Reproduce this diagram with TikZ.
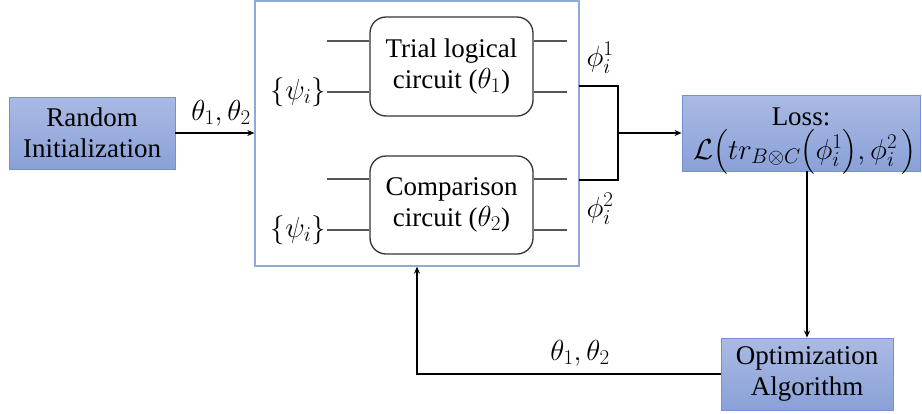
\documentclass[tikz,border=0pt]{standalone}
\usepackage{fix-cm}
\usepackage{amsmath}
\usepackage{fontspec}
\setmainfont{Liberation Serif}
\DeclareMathSizes{27}{29}{21}{16}
\usetikzlibrary{arrows.meta}

\definecolor{boxtop}{HTML}{AABAE3}
\definecolor{boxbot}{HTML}{8AA1D8}
\definecolor{boxline}{HTML}{7490D2}
\definecolor{frameline}{HTML}{8EAADB}
\definecolor{wire}{HTML}{555555}

\tikzset{
  bluebox/.style={draw=boxline, line width=0.9pt, top color=boxtop, bottom color=boxbot,
    minimum width=#1, align=center, inner sep=0pt},
  circbox/.style={draw=black!80, line width=1.3pt, rounded corners=16pt, fill=white,
    minimum width=163pt, align=center, inner sep=0pt},
  qwire/.style={draw=wire, line width=1.4pt},
  flow/.style={draw=black, line width=2pt, -{Stealth[length=7pt,width=6pt]}},
  plain/.style={draw=black, line width=2pt},
  lbl/.style={inner sep=1pt}
}

\begin{document}
\begin{tikzpicture}[x=1pt, y=-1pt, font=\rmfamily\fontsize{27}{31}\selectfont]
  \useasboundingbox (0,0) rectangle (922,413);

  % blue process boxes
  \node[bluebox=166pt, minimum height=72pt] (rand) at (92,133) {Random\\Initialization};
  \node[bluebox=238pt, minimum height=76pt] (loss) at (801,133) {};
  \node[lbl] (losst) at (801,117) {Loss:};
  \node[lbl] (lossf) at (805,152)
    {$\mathcal{L}\bigl(tr_{B\otimes C}\bigl(\phi_i^1\bigr),\phi_i^2\,\bigr)$};
  \node[bluebox=172pt, minimum height=72pt] (opt) at (807,374) {Optimization\\Algorithm};

  % frame enclosing both circuits
  \node[draw=frameline, line width=1.3pt, minimum width=324pt, minimum height=265pt,
        inner sep=0pt] (frame) at (417,133.5) {};

  % the two circuits
  \node[circbox, minimum height=99pt] (trial) at (451.5,66.5) {Trial logical\\circuit ($\theta_1$)};
  \node[circbox, minimum height=98pt] (comp) at (451.5,205) {Comparison\\circuit ($\theta_2$)};

  % input / output wires
  \coordinate (ta) at (327,41);  \coordinate (tb) at (327,92);
  \coordinate (ca) at (327,179); \coordinate (cb) at (327,230);
  \coordinate (ro) at (567,0);
  \foreach \w in {ta,tb} {
    \draw[qwire] (\w) -- (\w -| trial.west);
    \draw[qwire] (\w -| trial.east) -- (\w -| ro);
  }
  \foreach \w in {ca,cb} {
    \draw[qwire] (\w) -- (\w -| comp.west);
    \draw[qwire] (\w -| comp.east) -- (\w -| ro);
  }
  \node[lbl, anchor=east] (psia) at (tb) {$\{\psi_i\}$};
  \node[lbl, anchor=east] (psib) at (cb) {$\{\psi_i\}$};

  % initialization into the frame
  \draw[flow] (rand.east) -- (rand.east -| frame.west);
  \node[lbl] (th0) at (221,113) {$\theta_1,\theta_2$};

  % outputs merged into the loss
  \coordinate (o1) at (579,86);
  \coordinate (o2) at (579,180);
  \coordinate (join) at (618,133);
  \draw[plain] (o1) -- (o1 -| join) -- (o2 -| join) -- (o2);
  \draw[flow] (join) -- (loss.west);
  \node[lbl] (phi1) at (600,58) {$\phi_i^1$};
  \node[lbl] (phi2) at (600,209) {$\phi_i^2$};

  % loss to optimizer, and the parameter feedback
  \draw[flow] (opt.north |- loss.south) -- (opt.north);
  \coordinate (fb) at (417,374);
  \draw[flow] (opt.west) -- (fb) -- (fb |- frame.south);
  \node[lbl] (th1) at (580,353) {$\theta_1,\theta_2$};
\end{tikzpicture}
\end{document}
